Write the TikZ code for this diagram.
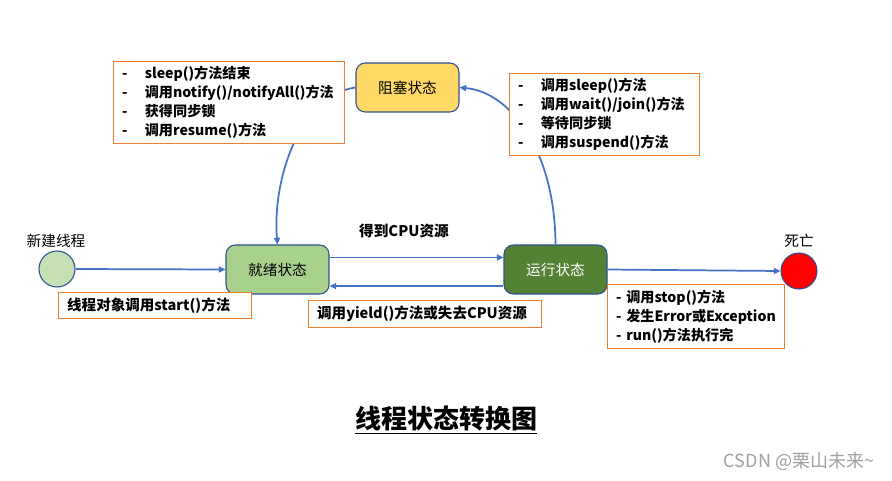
\documentclass[tikz,border=0pt]{standalone}
\usepackage{fontspec}
\setmainfont{Noto Sans CJK SC}
\usetikzlibrary{arrows.meta}
\definecolor{lineblue}{HTML}{4472C4}
\definecolor{edgeblue}{HTML}{2F528F}
\definecolor{boxorange}{HTML}{ED7D31}
\definecolor{blockyellow}{HTML}{FFD966}
\definecolor{readygreen}{HTML}{A9D18E}
\definecolor{rungreen}{HTML}{548235}
\definecolor{newgreen}{HTML}{C5E0B4}
\definecolor{markgray}{HTML}{A0A0A0}
\tikzset{
  statebox/.style={draw=edgeblue, line width=0.8pt, rounded corners=7pt, minimum width=77.25pt, minimum height=36.75pt, font=\fontsize{11}{13}\selectfont},
  endpoint/.style={circle, draw=edgeblue, line width=0.8pt, minimum size=27pt, inner sep=0pt},
  notebox/.style={draw=boxorange, line width=0.8pt, fill=white, font=\bfseries\fontsize{10.6}{14.25}\selectfont, align=left, inner xsep=6.5pt, inner ysep=0pt},
  conn/.style={draw=lineblue, line width=1.3pt, -{Triangle[length=5pt,width=4.5pt]}},
  plainlabel/.style={font=\fontsize{11}{13}\selectfont}
}
\newcommand{\dashitem}[1]{\makebox[17pt][l]{-}#1}
\begin{document}
\begin{tikzpicture}[x=0.75pt,y=-0.75pt]
\useasboundingbox (0,0) rectangle (892,480);
\fill[white] (0,0) rectangle (892,480);

% state nodes
\node[statebox, fill=blockyellow] (block) at (407.5,87.5) {阻塞状态};
\node[statebox, fill=readygreen] (ready) at (277.5,269.5) {就绪状态};
\node[statebox, fill=rungreen, text=white] (run) at (555.5,269.5) {运行状态};
\node[endpoint, fill=newgreen] (new) at (57,269) {};
\node[endpoint, fill=red] (dead) at (799,271) {};
\node[plainlabel] (newlabel) at (56,241) {新建线程};
\node[plainlabel] (deadlabel) at (799,241) {死亡};

% curved connectors (behind the note boxes)
\draw[conn] (block.west) .. controls (300,95) and (272,180) .. (ready.north);
\draw[conn] (run.north) .. controls (555,150) and (510,92) .. (block.east);

% straight connectors
\draw[conn] (new.east) -- (ready.west);
\draw[conn] ([yshift=9pt]ready.east) -- ([yshift=9pt]run.west);
\draw[conn] ([yshift=-12.4pt]run.west) -- ([yshift=-12.4pt]ready.east);
\draw[conn] (run.east) -- (dead.west);

% note boxes
\node[notebox, anchor=north west, minimum width=173.25pt, minimum height=61.5pt, text width=160.25pt] (leftnote) at (113,61)
  {\dashitem{sleep()方法结束}\\\dashitem{调用notify()/notifyAll()方法}\\\dashitem{获得同步锁}\\\dashitem{调用resume()方法}};
\node[notebox, anchor=north west, minimum width=142.5pt, minimum height=61.5pt, text width=129.5pt] (rightnote) at (509,73)
  {\dashitem{调用sleep()方法}\\\dashitem{调用wait()/join()方法}\\\dashitem{等待同步锁}\\\dashitem{调用suspend()方法}};
\node[notebox, anchor=north west, minimum width=144.75pt, minimum height=19.5pt, text width=131.75pt, font=\bfseries\fontsize{10.9}{14}\selectfont] (startnote) at (58,292)
  {线程对象调用start()方法};
\node[notebox, anchor=north west, minimum width=174.75pt, minimum height=20.25pt, text width=161.75pt, font=\bfseries\fontsize{10.9}{14}\selectfont] (yieldnote) at (308,300)
  {调用yield()方法或失去CPU资源};
\node[notebox, anchor=north west, minimum width=132.75pt, minimum height=48pt, text width=119.75pt] (deadnote) at (607,284)
  {- 调用stop()方法\\- 发生Error或Exception\\- run()方法执行完};

\node[font=\bfseries\fontsize{11}{13}\selectfont] (cpulabel) at (404,231) {得到CPU资源};

% title and mark
\node[font=\bfseries\fontsize{19.5}{22}\selectfont] (title) at (446,420) {\underline{线程状态转换图}};
\node[font=\fontsize{13.5}{16}\selectfont, text=markgray] (mark) at (799,461) {CSDN @栗山未来\textasciitilde};
\end{tikzpicture}
\end{document}
